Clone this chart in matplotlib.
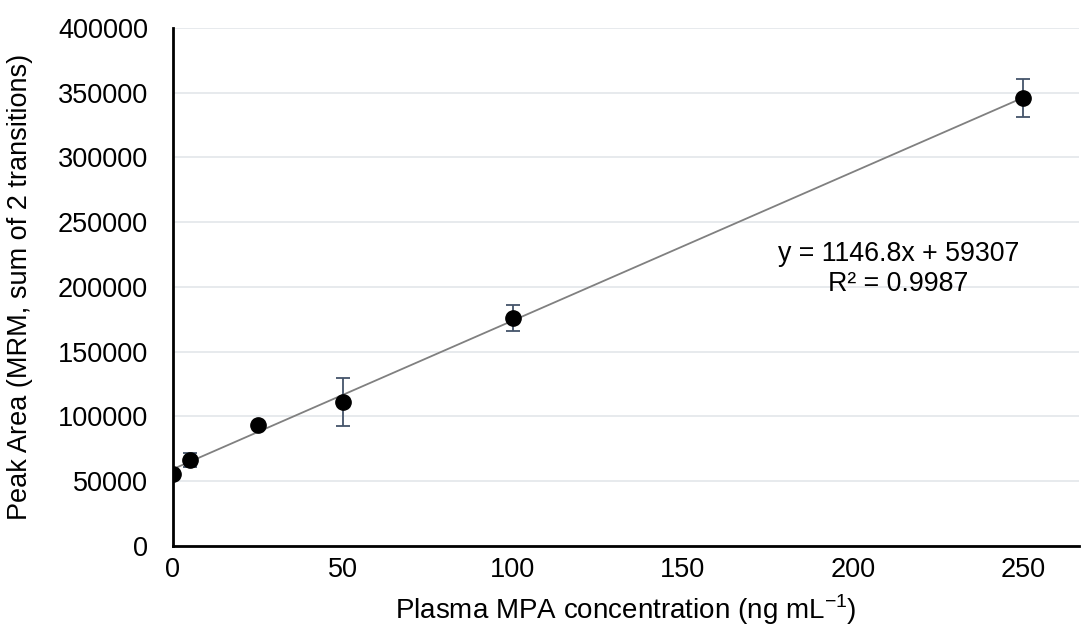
import numpy as np
import matplotlib.pyplot as plt

conc = [0, 5, 25, 50, 100, 250]
area = [55600, 66400, 93400, 111200, 176000, 346000]
err = [0, 5400, 0, 18500, 10000, 14700]
slope = 1146.8
intercept = 59307
r2 = 0.9987

plt.rcParams['font.family'] = ['Liberation Sans', 'DejaVu Sans']
plt.rcParams['axes.unicode_minus'] = False

fig = plt.figure(figsize=(10.81, 6.34), dpi=100)
ax = fig.add_axes([0.16, 0.139, 0.838, 0.817])

xf = np.array([0, 250])
ax.plot(xf, slope*xf + intercept, color='#808080', lw=1.3, zorder=2)
ax.errorbar(conc, area, yerr=err, fmt='o', color='black', ms=11,
            ecolor='#44546A', elinewidth=1.3, capsize=5, capthick=1.3, zorder=3)

ax.set_xlim(0, 266.5)
ax.set_ylim(0, 400000)
ax.set_xticks([0, 50, 100, 150, 200, 250])
ax.set_yticks(range(0, 400001, 50000))
ax.yaxis.grid(True, color='#e3e6ea', lw=1.2)
ax.set_axisbelow(True)
for s in ['top', 'right']:
    ax.spines[s].set_visible(False)
ax.spines['left'].set_linewidth(2)
ax.spines['bottom'].set_linewidth(2)
ax.tick_params(labelsize=19.5, length=0)
ax.tick_params(axis='y', pad=18)
ax.tick_params(axis='x', pad=8)
ax.set_xlabel('Plasma MPA concentration (ng mL$^{\\mathregular{-1}}$)', fontsize=20, labelpad=7)
ax.set_ylabel('Peak Area (MRM, sum of 2 transitions)', fontsize=19.5, labelpad=18)
ax.text(213.5, 214000, 'y = 1146.8x + 59307\nR² = 0.9987', fontsize=19.3,
        ha='center', va='center', linespacing=1.2)

fig.savefig('out.png', dpi=100)
